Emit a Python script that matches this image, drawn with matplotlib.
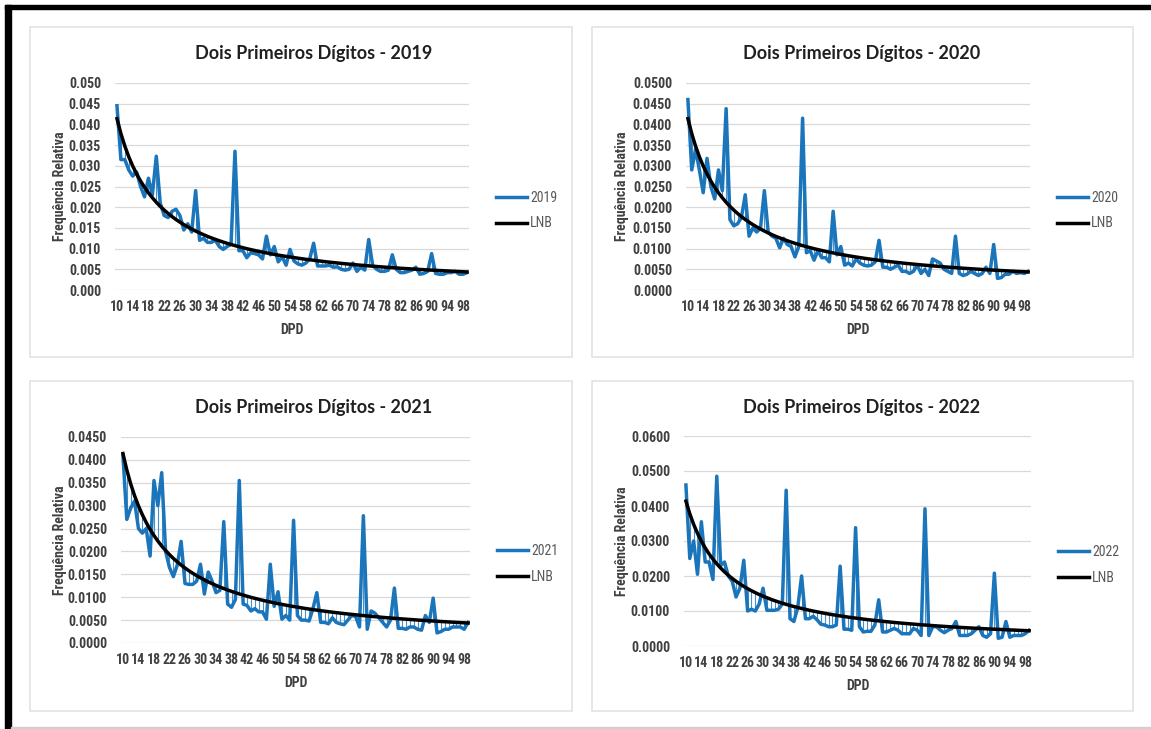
import matplotlib
matplotlib.use("Agg")
import matplotlib.pyplot as plt
from matplotlib.patches import Rectangle
from matplotlib import font_manager

# first two digits 10..99
digits = list(range(10, 100))

lnb = [0.04139, 0.03779, 0.03476, 0.03218, 0.02996, 0.02803, 0.02633, 0.02482, 0.02348, 0.02228,
       0.02119, 0.02020, 0.01931, 0.01848, 0.01773, 0.01703, 0.01639, 0.01579, 0.01524, 0.01472,
       0.01424, 0.01379, 0.01336, 0.01296, 0.01259, 0.01223, 0.01190, 0.01158, 0.01128, 0.01100,
       0.01072, 0.01047, 0.01022, 0.00998, 0.00976, 0.00955, 0.00934, 0.00914, 0.00896, 0.00877,
       0.00860, 0.00843, 0.00827, 0.00812, 0.00797, 0.00783, 0.00769, 0.00755, 0.00742, 0.00730,
       0.00718, 0.00706, 0.00695, 0.00684, 0.00673, 0.00663, 0.00653, 0.00643, 0.00634, 0.00625,
       0.00616, 0.00607, 0.00599, 0.00591, 0.00583, 0.00575, 0.00568, 0.00560, 0.00553, 0.00546,
       0.00540, 0.00533, 0.00526, 0.00520, 0.00514, 0.00508, 0.00502, 0.00496, 0.00491, 0.00485,
       0.00480, 0.00475, 0.00470, 0.00465, 0.00460, 0.00455, 0.00450, 0.00445, 0.00441, 0.00436]

freq_2019 = [0.0445, 0.0315, 0.0315, 0.0290, 0.0275, 0.0285, 0.0250, 0.0225, 0.0270, 0.0230,
             0.0323, 0.0210, 0.0180, 0.0175, 0.0190, 0.0195, 0.0180, 0.0145, 0.0160, 0.0140,
             0.0240, 0.0120, 0.0125, 0.0115, 0.0115, 0.0120, 0.0105, 0.0098, 0.0105, 0.0110,
             0.0335, 0.0095, 0.0095, 0.0078, 0.0090, 0.0088, 0.0085, 0.0075, 0.0130, 0.0085,
             0.0105, 0.0068, 0.0080, 0.0060, 0.0098, 0.0070, 0.0063, 0.0060, 0.0065, 0.0075,
             0.0113, 0.0058, 0.0058, 0.0058, 0.0060, 0.0055, 0.0056, 0.0050, 0.0048, 0.0050,
             0.0065, 0.0045, 0.0055, 0.0048, 0.0122, 0.0060, 0.0050, 0.0045, 0.0045, 0.0048,
             0.0085, 0.0050, 0.0042, 0.0042, 0.0045, 0.0048, 0.0055, 0.0038, 0.0040, 0.0045,
             0.0088, 0.0040, 0.0038, 0.0038, 0.0042, 0.0042, 0.0045, 0.0038, 0.0038, 0.0042]

freq_2020 = [0.0460, 0.0290, 0.0340, 0.0290, 0.0235, 0.0318, 0.0250, 0.0220, 0.0290, 0.0240,
             0.0438, 0.0170, 0.0155, 0.0160, 0.0175, 0.0230, 0.0130, 0.0150, 0.0140, 0.0150,
             0.0240, 0.0140, 0.0130, 0.0125, 0.0102, 0.0125, 0.0110, 0.0105, 0.0080, 0.0105,
             0.0415, 0.0090, 0.0095, 0.0072, 0.0095, 0.0078, 0.0078, 0.0068, 0.0190, 0.0085,
             0.0105, 0.0060, 0.0065, 0.0058, 0.0075, 0.0065, 0.0060, 0.0058, 0.0060, 0.0068,
             0.0120, 0.0055, 0.0055, 0.0050, 0.0055, 0.0060, 0.0045, 0.0045, 0.0040, 0.0045,
             0.0060, 0.0040, 0.0050, 0.0035, 0.0075, 0.0070, 0.0065, 0.0050, 0.0045, 0.0040,
             0.0130, 0.0040, 0.0035, 0.0038, 0.0045, 0.0040, 0.0035, 0.0040, 0.0055, 0.0040,
             0.0110, 0.0028, 0.0030, 0.0038, 0.0038, 0.0045, 0.0040, 0.0042, 0.0040, 0.0045]

freq_2021 = [0.0410, 0.0270, 0.0295, 0.0310, 0.0250, 0.0240, 0.0250, 0.0190, 0.0355, 0.0300,
             0.0372, 0.0200, 0.0165, 0.0145, 0.0170, 0.0222, 0.0130, 0.0128, 0.0128, 0.0135,
             0.0172, 0.0107, 0.0155, 0.0135, 0.0110, 0.0115, 0.0265, 0.0085, 0.0078, 0.0095,
             0.0355, 0.0085, 0.0082, 0.0070, 0.0075, 0.0068, 0.0068, 0.0052, 0.0172, 0.0080,
             0.0112, 0.0052, 0.0060, 0.0050, 0.0268, 0.0060, 0.0050, 0.0050, 0.0048, 0.0075,
             0.0110, 0.0045, 0.0045, 0.0042, 0.0055, 0.0045, 0.0042, 0.0040, 0.0050, 0.0060,
             0.0058, 0.0035, 0.0278, 0.0030, 0.0070, 0.0065, 0.0055, 0.0045, 0.0035, 0.0050,
             0.0120, 0.0032, 0.0032, 0.0030, 0.0035, 0.0035, 0.0030, 0.0028, 0.0060, 0.0045,
             0.0098, 0.0022, 0.0025, 0.0030, 0.0030, 0.0035, 0.0035, 0.0035, 0.0030, 0.0045]

freq_2022 = [0.0460, 0.0250, 0.0300, 0.0205, 0.0355, 0.0240, 0.0240, 0.0190, 0.0485, 0.0230,
             0.0240, 0.0200, 0.0185, 0.0140, 0.0165, 0.0245, 0.0100, 0.0105, 0.0100, 0.0120,
             0.0165, 0.0102, 0.0102, 0.0102, 0.0105, 0.0120, 0.0445, 0.0078, 0.0070, 0.0110,
             0.0200, 0.0078, 0.0078, 0.0085, 0.0075, 0.0062, 0.0060, 0.0055, 0.0055, 0.0060,
             0.0228, 0.0048, 0.0048, 0.0045, 0.0338, 0.0055, 0.0040, 0.0042, 0.0042, 0.0060,
             0.0132, 0.0040, 0.0040, 0.0045, 0.0050, 0.0045, 0.0035, 0.0035, 0.0035, 0.0050,
             0.0045, 0.0030, 0.0392, 0.0030, 0.0055, 0.0055, 0.0045, 0.0038, 0.0045, 0.0050,
             0.0070, 0.0030, 0.0030, 0.0030, 0.0035, 0.0045, 0.0055, 0.0030, 0.0025, 0.0035,
             0.0208, 0.0022, 0.0025, 0.0070, 0.0025, 0.0030, 0.0030, 0.0030, 0.0035, 0.0045]

years = ["2019", "2020", "2021", "2022"]
series = [freq_2019, freq_2020, freq_2021, freq_2022]
ymax = [0.050, 0.050, 0.045, 0.060]
ystep = [0.005, 0.005, 0.005, 0.010]
yfmt = ["{:.3f}", "{:.4f}", "{:.4f}", "{:.4f}"]

W, H = 1151, 729
BLUE = "#1b75bb"
GREY_TXT = "#404040"

# pick a narrow font if one is installed
installed = {f.name for f in font_manager.fontManager.ttflist}
narrow = "Liberation Sans"
tick_size = 8
for name, size in [("Liberation Sans Narrow", 10), ("DejaVu Sans Condensed", 8.5),
                   ("Roboto Condensed", 10)]:
    if name in installed:
        narrow, tick_size = name, size
        break
NARROW = [narrow, "DejaVu Sans"]

fig = plt.figure(figsize=(W / 100, H / 100), dpi=100)
fig.patch.set_facecolor("white")


def fx(px):
    return px / W


def fy(py):
    return 1 - py / H


# screenshot frame
fig.patches.append(Rectangle((fx(5), fy(9)), 1, 4 / H, transform=fig.transFigure,
                             color="black", zorder=5))
fig.patches.append(Rectangle((fx(5), 0), 6 / W, fy(5), transform=fig.transFigure,
                             color="black", zorder=5))
fig.patches.append(Rectangle((fx(11), 0), 1, 2 / H, transform=fig.transFigure,
                             color="#d0d0d0", zorder=5))

# panel boxes (left, top, right, bottom) in pixels
boxes = [(30, 27, 572, 357), (592, 27, 1133, 357), (30, 381, 572, 711), (592, 381, 1133, 711)]
# plot areas (left, top, right, bottom)
areas = [(115, 83, 469, 290), (686, 83, 1030, 290), (121, 437, 470, 643), (684, 436, 1031, 646)]
title_x = [314, 862, 314, 862]

for i in range(4):
    bl, bt, br, bb = boxes[i]
    fig.patches.append(Rectangle((fx(bl), fy(bb)), (br - bl) / W, (bb - bt) / H,
                                 transform=fig.transFigure, facecolor="white",
                                 edgecolor="#e3e3e3", lw=1.2, zorder=-2))
    l, t, r, b = areas[i]
    ax = fig.add_axes([fx(l), fy(b), (r - l) / W, (b - t) / H])
    ax.set_facecolor("none")
    vals = series[i]
    xs = list(range(len(digits)))

    # high-low lines between the two series
    lo = [min(a, c) for a, c in zip(vals, lnb)]
    hi = [max(a, c) for a, c in zip(vals, lnb)]
    ax.vlines(xs, lo, hi, color="#4a90c8", lw=0.8, zorder=2)
    ax.plot(xs, vals, color=BLUE, lw=2.5, solid_joinstyle="round", zorder=3, label=years[i])
    ax.plot(xs, lnb, color="black", lw=2.5, zorder=4, label="LNB")

    ax.set_xlim(-0.5, len(digits) - 0.5)
    ax.set_ylim(0, ymax[i])
    n = int(round(ymax[i] / ystep[i]))
    yt = [k * ystep[i] for k in range(n + 1)]
    ax.set_yticks(yt)
    ax.set_yticklabels([yfmt[i].format(v) for v in yt], family=NARROW,
                       fontweight="bold", fontsize=tick_size, color=GREY_TXT)
    ax.set_xticks(xs[::4])
    ax.set_xticklabels([str(d) for d in digits[::4]], family=NARROW,
                       fontweight="bold", fontsize=tick_size, color=GREY_TXT)
    ax.tick_params(axis="y", length=0, pad=10)
    ax.tick_params(axis="x", length=0, pad=7)
    ax.grid(axis="y", color="#d9d9d9", lw=0.9)
    ax.set_axisbelow(True)
    for s in ax.spines.values():
        s.set_visible(False)

    fig.text(fx(title_x[i]), fy(bt + 26), "Dois Primeiros Dígitos - " + years[i],
             ha="center", va="center", fontsize=13, fontweight="bold",
             family=["Lato", "DejaVu Sans"], color="#202020")
    fig.text(fx((l + r) / 2), fy(b + 40), "DPD", ha="center", va="center",
             fontsize=tick_size, fontweight="bold", family=NARROW, color=GREY_TXT)
    fig.text(fx(bl + 30), fy((t + b) / 2), "Frequência Relativa", rotation=90,
             ha="center", va="center", fontsize=tick_size, fontweight="bold",
             family=NARROW, color=GREY_TXT)

    leg = ax.legend(loc="center left", bbox_to_anchor=(fx(r + 27), fy((t + b) / 2 + 24)),
                    bbox_transform=fig.transFigure, frameon=False, handlelength=2.2,
                    handletextpad=0.25, labelspacing=0.85, borderpad=0, borderaxespad=0,
                    prop={"family": NARROW, "size": tick_size})
    for txt in leg.get_texts():
        txt.set_color("#595959")

fig.savefig("out.png", dpi=100)
